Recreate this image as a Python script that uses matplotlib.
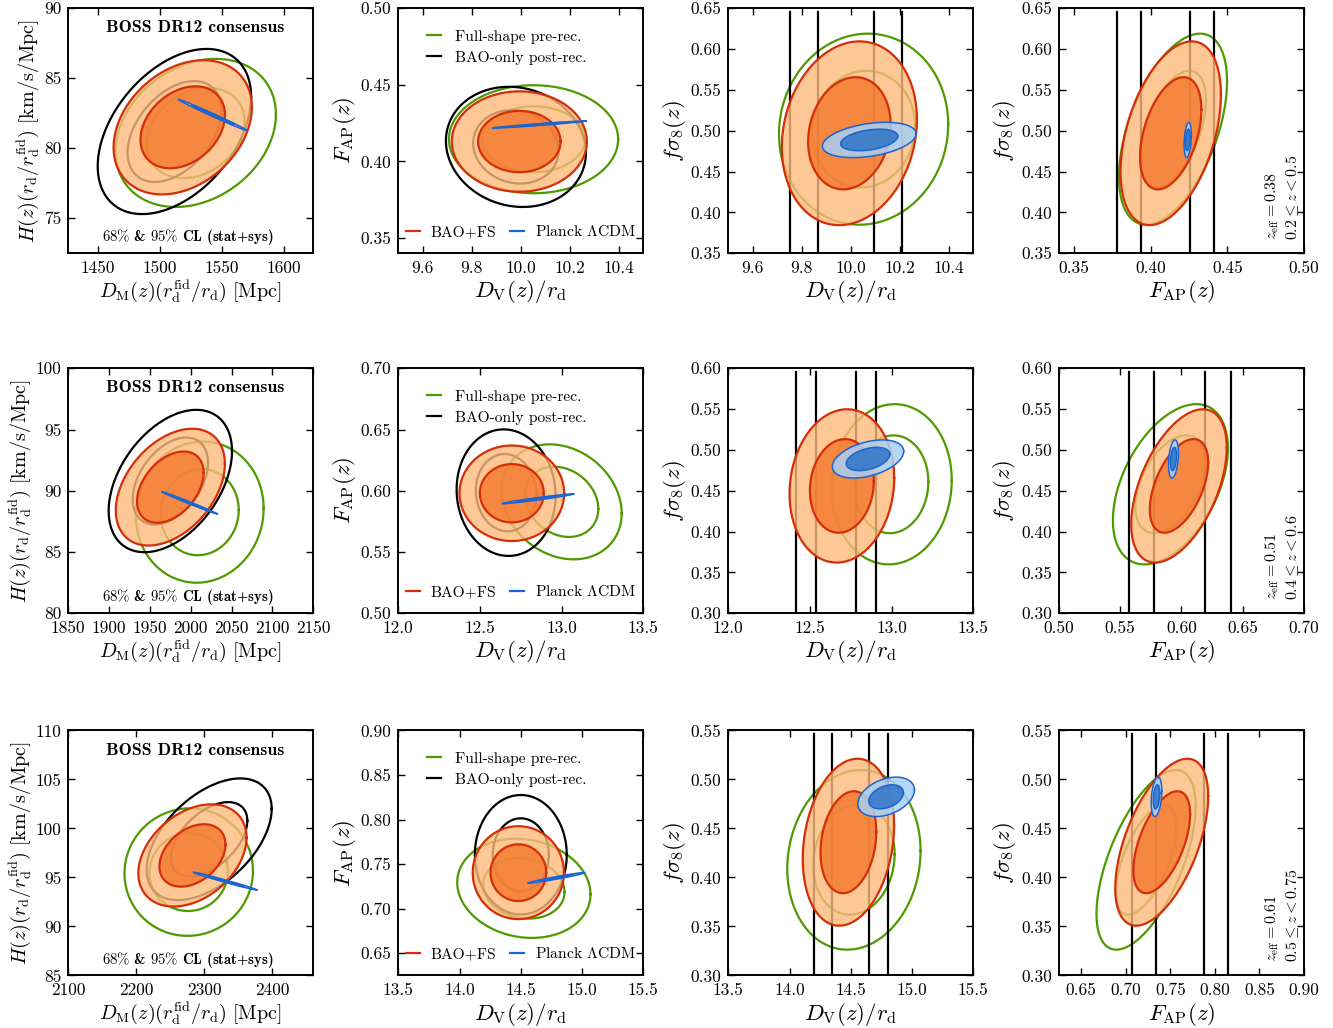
import numpy as np
import matplotlib
matplotlib.use('Agg')
import matplotlib.pyplot as plt
from matplotlib.lines import Line2D
from matplotlib.ticker import MultipleLocator, FormatStrFormatter

plt.rcParams['font.family'] = 'serif'
plt.rcParams['font.serif'] = ['cmr10']
plt.rcParams['mathtext.fontset'] = 'cm'
plt.rcParams['axes.formatter.use_mathtext'] = True
plt.rcParams['axes.unicode_minus'] = False

# columns: D_M, H, D_V/r_d, F_AP, f sigma_8  (one row per redshift bin)
z_eff = [0.38, 0.51, 0.61]
z_range = [r'0.2 \leq z < 0.5', r'0.4 \leq z < 0.6', r'0.5 \leq z < 0.75']

cons_mean = np.array([[1518.5, 81.5, 9.994, 0.413, 0.497],
                      [1975.0, 90.3, 12.695, 0.598, 0.456],
                      [2282.5, 97.25, 14.48, 0.7404, 0.436]])
cons_err = np.array([[22.5, 1.93, 0.111, 0.0132, 0.0453],
                     [26.9, 1.92, 0.129, 0.0157, 0.0378],
                     [32.0, 2.10, 0.150, 0.0210, 0.0343]])
# correlations: (DM,H), (DV,FAP), (DV,fs8), (FAP,fs8)
cons_rho = np.array([[0.3, 0.0, 0.15, 0.42],
                     [0.4, 0.0, 0.1, 0.5],
                     [0.35, 0.0, 0.2, 0.55]])

fs_mean = np.array([[1529.0, 81.1, 10.052, 0.4145, 0.502],
                    [2011.0, 88.26, 13.0, 0.591, 0.458],
                    [2277.0, 95.55, 14.525, 0.7228, 0.418]])
fs_err = np.array([[26.1, 2.13, 0.139, 0.0142, 0.0471],
                   [31.5, 2.32, 0.148, 0.0189, 0.0395],
                   [38.0, 2.62, 0.219, 0.0224, 0.0369]])
fs_rho = np.array([[0.25, 0.0, 0.05, 0.5],
                   [0.05, -0.2, 0.05, 0.45],
                   [0.02, -0.12, 0.1, 0.6]])

# BAO-only has no f sigma_8
bao_mean = np.array([[1511.8, 81.2, 9.98, 0.4095],
                     [1975.0, 90.8, 12.66, 0.5985],
                     [2307.0, 98.9, 14.5, 0.7605]])
bao_err = np.array([[24.96, 2.375, 0.115, 0.0158],
                    [30.4, 2.34, 0.122, 0.0208],
                    [37.0, 2.5, 0.151, 0.027]])
bao_rho = np.array([[0.42, -0.1],
                    [0.42, -0.05],
                    [0.5, 0.0]])

planck_mean = np.array([[1542.8, 82.38, 10.075, 0.4241, 0.4888],
                        [1998.4, 89.02, 12.855, 0.5935, 0.489],
                        [2330.4, 94.63, 14.788, 0.7345, 0.4823]])
planck_err = np.array([[11.23, 0.451, 0.077, 0.00095, 0.0087],
                       [13.7, 0.366, 0.088, 0.00163, 0.0094],
                       [18.8, 0.366, 0.093, 0.0024, 0.0081]])
planck_rho = np.array([[-0.995, 0.97, 0.35, 0.3],
                       [-0.995, 0.97, 0.4, 0.3],
                       [-0.99, 0.97, 0.35, 0.3]])

xlims = [[(1426, 1624), (9.5, 10.5), (9.5, 10.5), (0.34, 0.50)],
         [(1850, 2150), (12.0, 13.5), (12.0, 13.5), (0.50, 0.70)],
         [(2100, 2460), (13.5, 15.5), (13.5, 15.5), (0.625, 0.90)]]
ylims = [[(72.5, 90), (0.34, 0.50), (0.35, 0.65), (0.35, 0.65)],
         [(80, 100), (0.50, 0.70), (0.30, 0.60), (0.30, 0.60)],
         [(85, 110), (0.625, 0.90), (0.30, 0.55), (0.30, 0.55)]]
xsteps = [[50, 0.2, 0.2, 0.05], [50, 0.5, 0.5, 0.05], [100, 0.5, 0.5, 0.05]]

# (x quantity, y quantity, correlation index) per column
panels = [(0, 1, 0), (2, 3, 1), (2, 4, 2), (3, 4, 3)]
fmts = ['%d', '%d', '%.1f', '%.2f', '%.2f']
labels = [r'$D_{\rm M}(z)(r_{\rm d}^{\rm fid}/r_{\rm d})\ [{\rm Mpc}]$',
          r'$H(z)(r_{\rm d}/r_{\rm d}^{\rm fid})\ [{\rm km/s/Mpc}]$',
          r'$D_{\rm V}(z)/r_{\rm d}$', r'$F_{\rm AP}(z)$', r'$f\sigma_8(z)$']
label_size = [14.5, 14.5, 16.5, 16.5, 16.5]

dchi2 = [6.17, 2.30]  # 95%, 68% for two parameters

green = '#4f9a00'
red = '#d52f08'
peach = '#fdba7c'
orange = '#f3772c'
blue = '#1a64d4'
lblue = '#a8d0f5'
dblue = '#2f74c8'


def contour(mx, my, sx, sy, rho, d2):
    t = np.linspace(0, 2 * np.pi, 300)
    r = np.sqrt(d2)
    x = mx + r * sx * np.cos(t)
    y = my + r * sy * (rho * np.cos(t) + np.sqrt(1 - rho ** 2) * np.sin(t))
    return x, y


fig = plt.figure(figsize=(13.33, 10.28), dpi=100)
lefts = [0.0512, 0.2988, 0.5464, 0.7944]
bottoms = [0.7536, 0.4034, 0.0511]

for r in range(3):
    for c in range(4):
        ax = fig.add_axes([lefts[c], bottoms[r], 0.1838, 0.2383])
        xi, yi, ri = panels[c]

        # full-shape pre-rec.
        for d2 in dchi2:
            x, y = contour(fs_mean[r, xi], fs_mean[r, yi], fs_err[r, xi], fs_err[r, yi], fs_rho[r, ri], d2)
            ax.plot(x, y, color=green, lw=1.6, zorder=1)

        # BAO-only post-rec.
        if yi < 4:
            for d2 in dchi2:
                x, y = contour(bao_mean[r, xi], bao_mean[r, yi], bao_err[r, xi], bao_err[r, yi], bao_rho[r, ri], d2)
                ax.plot(x, y, color='k', lw=1.6, zorder=1)
        else:
            for k in [-2, -1, 1, 2]:
                ax.axvline(bao_mean[r, xi] + k * bao_err[r, xi], ymax=0.985, color='k', lw=1.6, zorder=1)

        # BAO+FS consensus
        for d2, col in zip(dchi2, [peach, orange]):
            x, y = contour(cons_mean[r, xi], cons_mean[r, yi], cons_err[r, xi], cons_err[r, yi], cons_rho[r, ri], d2)
            ax.fill(x, y, color=col, alpha=0.8, lw=0, zorder=2)
            ax.plot(x, y, color=red, lw=1.6, zorder=3)

        # Planck LCDM
        for d2, col in zip(dchi2, [lblue, dblue]):
            x, y = contour(planck_mean[r, xi], planck_mean[r, yi], planck_err[r, xi], planck_err[r, yi],
                           planck_rho[r, ri], d2)
            ax.fill(x, y, color=col, alpha=0.85, lw=0, zorder=4)
            ax.plot(x, y, color=blue, lw=1.1, zorder=5)

        ax.set_xlim(xlims[r][c])
        ax.set_ylim(ylims[r][c])
        ax.xaxis.set_major_locator(MultipleLocator(xsteps[r][c]))
        ax.yaxis.set_major_locator(MultipleLocator(5 if c == 0 else 0.05))
        ax.xaxis.set_major_formatter(FormatStrFormatter(fmts[xi]))
        ax.yaxis.set_major_formatter(FormatStrFormatter(fmts[yi]))
        ax.tick_params(direction='in', top=True, right=True, length=5, width=1,
                       labelsize=12.5, pad=5)
        for s in ax.spines.values():
            s.set_linewidth(1.4)
        ax.set_xlabel(labels[xi], fontsize=label_size[xi], labelpad=2)
        ax.set_ylabel(labels[yi], fontsize=label_size[yi], labelpad=2)

        if c == 0:
            ax.text(0.52, 0.92, 'BOSS DR12 consensus', transform=ax.transAxes,
                    ha='center', va='center', fontsize=12.8, family='cmb10')
            ax.text(0.49, 0.065, r'$68\%$ & $95\%$ CL (stat+sys)', transform=ax.transAxes,
                    ha='center', va='center', fontsize=10.6, family='cmb10')
        if c == 1:
            h1 = [Line2D([], [], color=green, lw=1.6), Line2D([], [], color='k', lw=1.6)]
            leg1 = ax.legend(h1, ['Full-shape pre-rec.', 'BAO-only post-rec.'], loc='upper left',
                             bbox_to_anchor=(0.06, 0.97), frameon=False, fontsize=11.2,
                             handlelength=0.9, handletextpad=0.9, labelspacing=0.45)
            ax.add_artist(leg1)
            h2 = [Line2D([], [], color=red, lw=1.6), Line2D([], [], color=blue, lw=1.6)]
            ax.legend(h2, ['BAO+FS', r'Planck $\Lambda$CDM'], loc='lower center',
                      bbox_to_anchor=(0.5, 0.0), ncol=2, frameon=False, fontsize=11.2,
                      handlelength=0.9, handletextpad=0.7, columnspacing=0.9)
        if c == 3:
            ax.text(0.91, 0.055, r'$z_{\rm eff}=%.2f$' % z_eff[r] + '\n' + r'$%s$' % z_range[r],
                    transform=ax.transAxes, rotation=90, ha='center', va='bottom',
                    fontsize=11.5, multialignment='left')

fig.savefig('out.png', dpi=100)
